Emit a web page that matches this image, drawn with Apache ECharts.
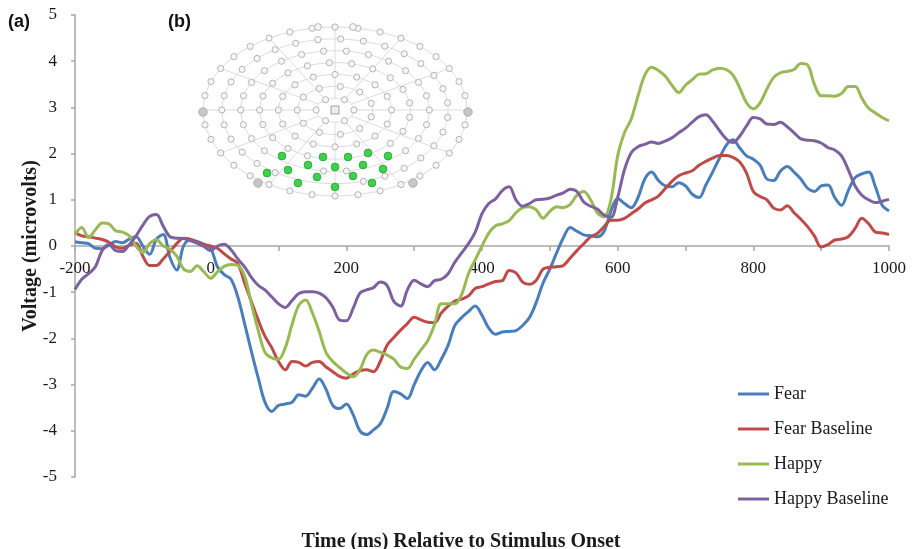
<!DOCTYPE html>
<html>
<head>
<meta charset="utf-8">
<script src="https://cdn.jsdelivr.net/npm/echarts@6/dist/echarts.min.js"></script>
<style>
html,body{margin:0;padding:0;background:#fff;}
#chart{width:922px;height:549px;}
</style>
</head>
<body>
<div id="chart"></div>
<script>
// ---- DATA ----
const times = [-200,-190,-180,-170,-160,-150,-140,-130,-120,-110,-100,-90,-80,-70,-60,-50,-40,-30,-20,-10,
0,10,20,30,40,50,60,70,80,90,100,110,120,130,140,150,160,170,180,190,
200,210,220,230,240,250,260,270,280,290,300,310,320,330,340,350,360,370,380,390,
400,410,420,430,440,450,460,470,480,490,500,510,520,530,540,550,560,570,580,590,
600,610,620,630,640,650,660,670,680,690,700,710,720,730,740,750,760,770,780,790,
800,810,820,830,840,850,860,870,880,890,900,910,920,930,940,950,960,970,980,990,1000];

const fear = [0.09,0.07,0.05,-0.05,-0.06,0.02,0.10,0.07,0.15,0.20,0.0,-0.18,0.15,0.25,-0.25,-0.52,0.0,0.13,0.10,0.04,
-0.05,-0.45,-0.62,-0.72,-1.1,-1.68,-2.28,-2.85,-3.38,-3.58,-3.45,-3.42,-3.38,-3.22,-3.25,-3.08,-2.88,-3.1,-3.45,-3.52,
-3.42,-3.65,-4.0,-4.08,-3.98,-3.85,-3.52,-3.15,-3.2,-3.3,-3.0,-2.7,-2.52,-2.68,-2.45,-2.15,-1.72,-1.55,-1.42,-1.3,
-1.5,-1.78,-1.91,-1.86,-1.85,-1.83,-1.72,-1.55,-1.22,-0.8,-0.5,-0.15,0.18,0.4,0.32,0.24,0.22,0.2,0.32,0.75,
1.03,0.92,0.83,1.05,1.45,1.6,1.42,1.3,1.28,1.37,1.3,1.12,1.05,1.32,1.6,1.9,2.18,2.3,2.12,1.95,
1.88,1.75,1.45,1.42,1.62,1.72,1.6,1.45,1.25,1.18,1.3,1.32,1.05,0.88,1.2,1.48,1.56,1.6,1.28,0.88,0.76];

const fearBaseline = [0.29,0.22,0.2,0.17,0.14,0.08,-0.02,-0.05,0.02,0.06,-0.22,-0.42,-0.42,-0.28,-0.12,0.05,0.17,0.15,0.08,0.03,
0.0,-0.05,-0.17,-0.28,-0.38,-0.8,-1.2,-1.6,-1.95,-2.2,-2.5,-2.68,-2.5,-2.52,-2.6,-2.52,-2.5,-2.62,-2.72,-2.82,
-2.86,-2.77,-2.7,-2.68,-2.72,-2.5,-2.15,-1.98,-1.82,-1.68,-1.54,-1.6,-1.65,-1.66,-1.45,-1.3,-1.19,-1.15,-1.08,-0.92,
-0.88,-0.82,-0.77,-0.75,-0.53,-0.58,-0.78,-0.83,-0.74,-0.5,-0.46,-0.45,-0.42,-0.26,-0.1,0.05,0.2,0.27,0.42,0.56,
0.56,0.6,0.7,0.8,0.93,1.0,1.08,1.24,1.4,1.52,1.58,1.63,1.75,1.83,1.9,1.96,1.96,1.92,1.82,1.58,
1.18,1.07,1.0,0.82,0.78,0.87,0.72,0.58,0.42,0.22,-0.02,0.03,0.13,0.15,0.2,0.38,0.6,0.48,0.3,0.28,0.25];

const happy = [0.25,0.4,0.18,0.35,0.5,0.48,0.33,0.3,0.22,0.0,-0.14,0.05,0.14,0.0,-0.07,-0.22,-0.5,-0.55,-0.43,-0.56,
-0.7,-0.56,-0.44,-0.4,-0.42,-0.65,-1.25,-1.82,-2.3,-2.42,-2.45,-2.2,-1.7,-1.28,-1.17,-1.45,-1.85,-2.3,-2.5,-2.63,
-2.75,-2.83,-2.68,-2.35,-2.25,-2.3,-2.36,-2.45,-2.62,-2.65,-2.45,-2.25,-2.05,-1.7,-1.25,-1.25,-1.25,-1.05,-0.6,-0.3,
0.0,0.28,0.44,0.48,0.55,0.72,0.83,0.85,0.78,0.6,0.75,0.85,0.83,0.9,1.1,1.18,1.0,0.72,0.63,1.0,
1.95,2.45,2.75,3.25,3.7,3.87,3.8,3.68,3.48,3.32,3.48,3.6,3.72,3.73,3.81,3.85,3.82,3.7,3.42,3.1,
2.97,3.1,3.4,3.65,3.75,3.78,3.82,3.95,3.92,3.5,3.25,3.25,3.24,3.3,3.45,3.45,3.2,2.98,2.88,2.78,2.71];

const happyBaseline = [-0.94,-0.72,-0.6,-0.45,-0.1,0.03,-0.1,-0.12,0.03,0.22,0.45,0.64,0.68,0.43,0.2,0.17,0.16,0.12,0.06,-0.01,
-0.1,0.0,0.04,-0.08,-0.28,-0.45,-0.68,-0.85,-0.95,-1.1,-1.25,-1.33,-1.18,-1.03,-0.99,-0.99,-1.02,-1.12,-1.32,-1.6,
-1.62,-1.35,-1.02,-0.95,-0.9,-0.78,-0.85,-1.2,-1.3,-0.95,-0.74,-0.82,-0.88,-0.75,-0.72,-0.6,-0.35,-0.15,0.05,0.3,
0.7,0.92,1.02,1.2,1.28,1.0,0.86,0.92,1.0,1.01,1.04,1.1,1.15,1.23,1.18,0.95,0.86,0.8,0.67,0.62,
1.05,1.65,2.02,2.15,2.2,2.25,2.22,2.27,2.34,2.45,2.55,2.68,2.8,2.84,2.7,2.5,2.32,2.24,2.38,2.6,
2.78,2.75,2.64,2.63,2.68,2.58,2.45,2.32,2.29,2.28,2.23,2.13,2.08,1.95,1.65,1.3,1.1,1.0,0.94,0.97,1.01];

const seriesNames = ['Fear','Fear Baseline','Happy','Happy Baseline'];
const seriesValues = [fear, fearBaseline, happy, happyBaseline];
const seriesColors = ['#4a7ebb','#be4b48','#98b954','#7d60a0'];
const xTickLabels = ['-200','0','200','400','600','800','1000'];
const yTickLabels = ['-5','-4','-3','-2','-1','0','1','2','3','4','5'];

// active electrode sites of the inset sensor map (panel b)
const activeSites = [[282,156],[323,157],[348,157],[368,153],[388,156],[308,165],[335,167],[363,165],[383,169],
[288,170],[267,173],[317,177],[353,176],[298,183],[335,187],[372,183]];
const referenceSites = [[203,112],[468,112],[258,183],[413,183]];
const topSites = [[318,27],[353,27]];

// ---- inset sensor net (decoration) ----
function buildInset(){
  const els = [];
  const cx = 335, cy = 110, RX = 132, RYT = 83, RYB = 86;
  const lineColor = '#dcdcdc';
  for (let k = 1; k <= 7; k++) {
    const rx = RX*k/7, ryt = RYT*k/7, ryb = RYB*k/7;
    const pts = [];
    for (let a = 0; a <= 360; a += 6) {
      const r = a*Math.PI/180;
      const s = Math.sin(r);
      pts.push([cx + rx*Math.cos(r), cy + (s<0? ryt: ryb)*s]);
    }
    els.push({type:'polyline', shape:{points:pts}, style:{stroke:lineColor, lineWidth:1, fill:null}, silent:true});
  }
  for (let a = 0; a < 360; a += 30) {
    const r = a*Math.PI/180, s = Math.sin(r);
    els.push({type:'line', shape:{x1:cx + RX/7*Math.cos(r), y1:cy+(s<0?RYT:RYB)/7*s, x2:cx+RX*Math.cos(r), y2:cy+(s<0?RYT:RYB)*s},
      style:{stroke:lineColor, lineWidth:1}, silent:true});
  }
  const near = (x,y) => activeSites.concat(referenceSites).some(p => Math.hypot(p[0]-x,p[1]-y) < 7);
  for (let k = 1; k <= 7; k++) {
    const rx = RX*k/7, ryt = RYT*k/7, ryb = RYB*k/7;
    const n = 5*k + 1;
    for (let i = 0; i < n; i++) {
      const r = (i/n)*2*Math.PI + (k%2? 0 : Math.PI/n);
      const s = Math.sin(r);
      const x = cx + rx*Math.cos(r), y = cy + (s<0? ryt: ryb)*s;
      if (near(x,y)) continue;
      els.push({type:'circle', shape:{cx:x, cy:y, r:3.1}, style:{fill:'#f6f6f6', stroke:'#a3a3a3', lineWidth:0.8}, silent:true});
    }
  }
  els.push({type:'rect', shape:{x:cx-4, y:cy-4, width:8, height:8}, style:{fill:'#eee', stroke:'#888', lineWidth:0.8}, silent:true});
  topSites.forEach(p => els.push({type:'circle', shape:{cx:p[0], cy:p[1], r:3.4}, style:{fill:'#f6f6f6', stroke:'#a3a3a3', lineWidth:0.8}, silent:true}));
  referenceSites.forEach(p => els.push({type:'circle', shape:{cx:p[0], cy:p[1], r:4.3}, style:{fill:'#c6c6c6', stroke:'#a8a8a8', lineWidth:0.8}, silent:true}));
  activeSites.forEach(p => els.push({type:'circle', shape:{cx:p[0], cy:p[1], r:3.9}, style:{fill:'#3fd14c', stroke:'#2b9e36', lineWidth:0.8}, silent:true}));
  return els;
}

const serif = '"Liberation Serif", "Times New Roman", serif';
const chart = echarts.init(document.getElementById('chart'), null, {renderer:'canvas'});

const option = {
  animation: false,
  backgroundColor: '#ffffff',
  title: {
    text: 'Time (ms) Relative to Stimulus Onset',
    left: 'center', top: 527,
    textStyle: {fontFamily: serif, fontWeight: 'bold', fontSize: 20, color: '#1a1a1a'}
  },
  legend: {
    orient: 'vertical',
    left: 738, top: 384, padding: 0,
    itemWidth: 31, itemHeight: 3, itemGap: 15,
    icon: 'rect',
    data: seriesNames,
    textStyle: {fontFamily: serif, fontSize: 18, color: '#1a1a1a', lineHeight: 20}
  },
  grid: {left: 75, right: 33, top: 15, bottom: 72, containLabel: false},
  xAxis: {
    type: 'value', min: -200, max: 1000, interval: 100,
    position: 'bottom', offset: -231,
    axisLine: {onZero: false, lineStyle: {color: '#a6a6a6', width: 1.5}},
    axisTick: {show: true, length: 5, lineStyle: {color: '#a6a6a6', width: 1.5}},
    axisLabel: {
      margin: 14, fontFamily: serif, fontSize: 17, color: '#1a1a1a',
      formatter: v => xTickLabels.includes(String(v)) ? String(v) : ''
    },
    splitLine: {show: false}
  },
  yAxis: {
    type: 'value', min: -5, max: 5, interval: 1,
    name: 'Voltage (microvolts)', nameLocation: 'middle', nameGap: 34, nameRotate: 90,
    nameMoveOverlap: false,
    nameTextStyle: {fontFamily: serif, fontWeight: 'bold', fontSize: 20, color: '#1a1a1a'},
    axisLine: {show: true, onZero: false, lineStyle: {color: '#a6a6a6', width: 1.5}},
    axisTick: {show: true, length: 4, lineStyle: {color: '#a6a6a6', width: 1.5}},
    axisLabel: {margin: 18, fontFamily: serif, fontSize: 17, color: '#1a1a1a',
      formatter: v => yTickLabels.includes(String(v)) ? String(v) : ''},
    splitLine: {show: false}
  },
  series: seriesNames.map((name, i) => ({
    name: name,
    type: 'line',
    data: times.map((t, j) => [t, seriesValues[i][j]]),
    smooth: 0.35,
    showSymbol: false,
    symbol: 'none',
    color: seriesColors[i],
    lineStyle: {width: 3, color: seriesColors[i]},
    z: 2 + i
  })),
  graphic: [
    {type: 'group', silent: true, z: 1, children: buildInset()},
    {type: 'text', left: 8, top: 13, style: {text: '(a)', font: 'bold 18px "Liberation Sans", Arial, sans-serif', fill: '#111'}},
    {type: 'text', left: 168, top: 13, style: {text: '(b)', font: 'bold 18px "Liberation Sans", Arial, sans-serif', fill: '#111'}}
  ]
};
chart.setOption(option);
</script>
</body>
</html>
